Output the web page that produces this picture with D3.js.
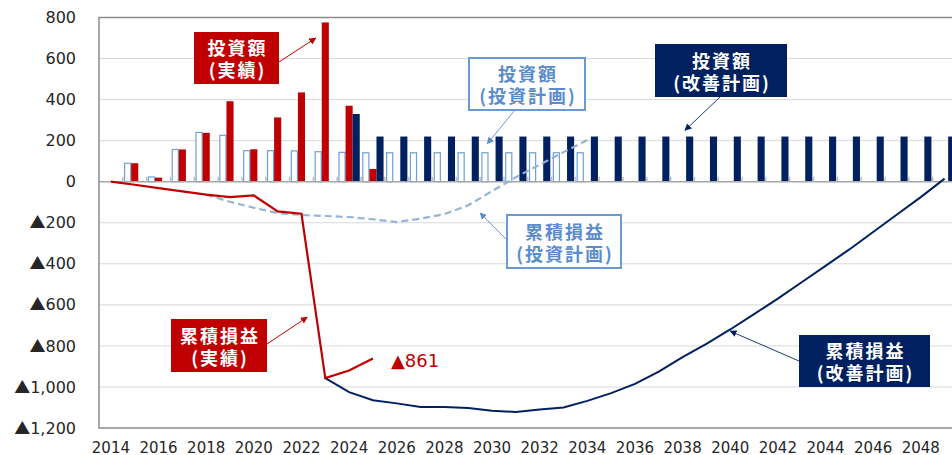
<!DOCTYPE html>
<html>
<head>
<meta charset="utf-8">
<script src="https://cdn.jsdelivr.net/npm/d3@7"></script>
<style>
  body { margin: 0; background: #fff; }
  svg { display: block; }
</style>
</head>
<body>
<div id="chart"></div>
<script>
// categories (the chart is cut at the right edge, so the last band is only partly visible)
const years = [2014, 2015, 2016, 2017, 2018, 2019, 2020, 2021, 2022, 2023, 2024, 2025,
  2026, 2027, 2028, 2029, 2030, 2031, 2032, 2033, 2034, 2035, 2036, 2037,
  2038, 2039, 2040, 2041, 2042, 2043, 2044, 2045, 2046, 2047, 2048, 2049];

const xTickYears = [2014, 2016, 2018, 2020, 2022, 2024, 2026, 2028, 2030, 2032, 2034,
  2036, 2038, 2040, 2042, 2044, 2046, 2048];
const yTicks = [800, 600, 400, 200, 0, -200, -400, -600, -800, -1000, -1200];

// 投資額 (投資計画) - white bars
const planInvest = [null, 90, 23, 157, 240, 226, 151, 151, 150, 146, 143, 141,
  141, 141, 141, 141, 141, 141, 141, 141, 141, null, null, null,
  null, null, null, null, null, null, null, null, null, null, null, null];
// 投資額 (実績) - red bars
const actualInvest = [null, 90, 20, 157, 238, 392, 158, 313, 435, 776, 370, 62,
  null, null, null, null, null, null, null, null, null, null, null, null,
  null, null, null, null, null, null, null, null, null, null, null, null];
// 投資額 (改善計画) - navy bars
const improveInvest = [null, null, null, null, null, null, null, null, null, null, 330, 220,
  220, 220, 220, 220, 220, 220, 220, 220, 220, 220, 220, 220,
  220, 220, 220, 220, 220, 220, 220, 220, 220, 220, 220, 220];

// 累積損益 (実績) - red line
const actualCum = [0, -15, -31, -47, -63, -75, -67, -145, -156, -957, -920, -861,
  null, null, null, null, null, null, null, null, null, null, null, null,
  null, null, null, null, null, null, null, null, null, null, null, null];
// 累積損益 (投資計画) - dashed light blue
const planCum = [null, null, null, null, -63, -98, -127, -153, -162, -167, -172, -183,
  -197, -180, -158, -115, -46, 22, 83, 144, 203, null, null, null,
  null, null, null, null, null, null, null, null, null, null, null, null];
// 累積損益 (改善計画) - navy line
const improveCum = [null, null, null, null, null, null, null, null, null, -957, -1025, -1065,
  -1080, -1098, -1098, -1102, -1116, -1122, -1110, -1100, -1068, -1030, -985, -925,
  -855, -790, -720, -645, -570, -490, -410, -330, -245, -160, -75, 15];

const RED = "#C00000", NAVY = "#002060", BLUE = "#5B8CCB", LIGHT = "#95B3D7";

const W = 952, H = 455;
const plot = { left: 99, top: 17.5, bottom: 428, step: 23.82 };

const svg = d3.select("#chart").append("svg")
  .attr("width", W)
  .attr("height", H)
  .attr("viewBox", `0 0 ${W} ${H}`);

const x = d3.scaleBand()
  .domain(years)
  .range([plot.left, plot.left + years.length * plot.step]);

const xs = d3.scaleBand()
  .domain(["plan", "actual", "improve"])
  .range([0, x.bandwidth()])
  .paddingOuter(0.18);

const y = d3.scaleLinear()
  .domain([-1200, 800])
  .range([plot.bottom, plot.top]);

const cx = yr => x(years[0]) + x.bandwidth() / 2 + (yr - years[0]) * x.step();

// gridlines
svg.append("g")
  .selectAll("line")
  .data(yTicks.filter(v => v !== 800 && v !== -1200 && v !== 0))
  .join("line")
  .attr("x1", plot.left).attr("x2", W)
  .attr("y1", d => y(d)).attr("y2", d => y(d))
  .attr("stroke", "#D9D9D9").attr("stroke-width", 1);

// bars
const series = [
  { key: "plan", values: planInvest, fill: "#fff", stroke: "#6F9FD8" },
  { key: "actual", values: actualInvest, fill: RED, stroke: null },
  { key: "improve", values: improveInvest, fill: NAVY, stroke: null }
];

const gBars = svg.append("g");
series.forEach(s => {
  const rows = years.map((yr, i) => ({ yr, v: s.values[i] })).filter(d => d.v != null);
  gBars.append("g")
    .selectAll("rect")
    .data(rows)
    .join("rect")
    .attr("x", d => x(d.yr) + xs(s.key) + (s.stroke ? 0.5 : 0))
    .attr("width", xs.bandwidth() - (s.stroke ? 1 : 0))
    .attr("y", d => y(d.v))
    .attr("height", d => y(0) - y(d.v))
    .attr("fill", s.fill)
    .attr("stroke", s.stroke)
    .attr("stroke-width", s.stroke ? 1.2 : 0);
});

// zero axis + small category ticks
svg.append("line")
  .attr("x1", plot.left).attr("x2", W)
  .attr("y1", y(0)).attr("y2", y(0))
  .attr("stroke", "#A6A6A6").attr("stroke-width", 1.5);

svg.append("g")
  .selectAll("line")
  .data(years.slice(1))
  .join("line")
  .attr("x1", d => x(d)).attr("x2", d => x(d))
  .attr("y1", y(0) - 5).attr("y2", y(0))
  .attr("stroke", "#BFBFBF").attr("stroke-width", 1.5);

// lines
const line = d3.line()
  .defined(d => d.v != null)
  .x(d => cx(d.yr))
  .y(d => y(d.v));

const toRows = arr => years.map((yr, i) => ({ yr, v: arr[i] }));

svg.append("path")
  .datum(toRows(planCum))
  .attr("d", line)
  .attr("fill", "none")
  .attr("stroke", LIGHT)
  .attr("stroke-width", 2.2)
  .attr("stroke-dasharray", "7,4");

svg.append("path")
  .datum(toRows(improveCum))
  .attr("d", line)
  .attr("fill", "none")
  .attr("stroke", NAVY)
  .attr("stroke-width", 2);

svg.append("path")
  .datum(toRows(actualCum))
  .attr("d", line)
  .attr("fill", "none")
  .attr("stroke", RED)
  .attr("stroke-width", 2.2);

// plot frame
svg.append("path")
  .attr("d", `M${W},${plot.top}H${plot.left}V${plot.bottom}H${W}`)
  .attr("fill", "none")
  .attr("stroke", "#8C8C8C")
  .attr("stroke-width", 1.5);

// y axis labels
const yAxisG = svg.append("g")
  .attr("transform", `translate(${plot.left},0)`)
  .call(d3.axisLeft(y).tickValues(yTicks).tickSize(0).tickPadding(23));
yAxisG.select(".domain").remove();
yAxisG.selectAll("text")
  .attr("font-family", "DejaVu Sans, Verdana, sans-serif")
  .attr("font-size", 16)
  .attr("fill", "#262626")
  .each(function (d) {
    const t = d3.select(this).text(null);
    if (d < 0) t.append("tspan").attr("font-family", "Noto Sans CJK JP").text("▲");
    t.append("tspan").text(d3.format(",")(Math.abs(d)));
  });

// x axis labels
const xAxisG = svg.append("g")
  .attr("transform", `translate(0,${plot.bottom})`)
  .call(d3.axisBottom(x).tickValues(xTickYears).tickSize(0).tickPadding(14));
xAxisG.select(".domain").remove();
xAxisG.selectAll("text")
  .attr("font-family", "DejaVu Sans, Verdana, sans-serif")
  .attr("font-size", 15)
  .attr("fill", "#262626");

// end value label
svg.append("text")
  .attr("x", cx(2025) + 18)
  .attr("y", y(actualCum[years.indexOf(2025)]) + 9)
  .attr("font-family", "DejaVu Sans, Verdana, sans-serif")
  .attr("font-size", 18)
  .attr("fill", RED)
  .text("▲" + Math.abs(actualCum[years.indexOf(2025)]));

// callouts
const defs = svg.append("defs");
[["red", RED], ["navy", NAVY], ["blue", BLUE]].forEach(([id, c]) => {
  defs.append("marker")
    .attr("id", "arrow-" + id)
    .attr("viewBox", "0 0 10 10")
    .attr("refX", 9).attr("refY", 5)
    .attr("markerWidth", 7).attr("markerHeight", 7)
    .attr("markerUnits", "userSpaceOnUse")
    .attr("orient", "auto")
    .append("path")
    .attr("d", "M0,0L10,5L0,10z")
    .attr("fill", c);
});

const callouts = [
  { lines: ["投資額", "(実績)"], box: [194, 32, 85, 52], kind: "red", from: [279, 62], to: [2022.6, 700] },
  { lines: ["投資額", "(投資計画)"], box: [469, 58, 116, 52], kind: "blue", from: [515, 110], to: [2029.8, 185] },
  { lines: ["投資額", "(改善計画)"], box: [655, 44, 132, 53], kind: "navy", from: [720, 97], to: [2038.1, 250] },
  { lines: ["累積損益", "(実績)"], box: [171, 319, 96, 53], kind: "red", from: [267, 344], to: [2022.24, -660] },
  { lines: ["累積損益", "(投資計画)"], box: [507, 215, 114, 53], kind: "blue", from: [507, 240], to: [2029.5, -152] },
  { lines: ["累積損益", "(改善計画)"], box: [799, 335, 131, 52], kind: "navy", from: [799, 361], to: [2040, -728] }
];
const kindStyle = {
  red: { fill: RED, stroke: "none", text: "#fff", arrow: RED },
  navy: { fill: NAVY, stroke: "none", text: "#fff", arrow: "#1F3A73" },
  blue: { fill: "#fff", stroke: "#6A9AD4", text: "#5B8CCB", arrow: "#6A9AD4" }
};

const gCall = svg.append("g");
callouts.forEach(c => {
  const st = kindStyle[c.kind];
  const [bx, by, bw, bh] = c.box;
  gCall.append("line")
    .attr("x1", c.from[0]).attr("y1", c.from[1])
    .attr("x2", cx(c.to[0])).attr("y2", y(c.to[1]))
    .attr("stroke", st.arrow).attr("stroke-width", 1)
    .attr("marker-end", `url(#arrow-${c.kind})`);
  gCall.append("rect")
    .attr("x", bx).attr("y", by).attr("width", bw).attr("height", bh)
    .attr("fill", st.fill)
    .attr("stroke", st.stroke)
    .attr("stroke-width", st.stroke === "none" ? 0 : 2);
  gCall.append("text")
    .attr("text-anchor", "middle")
    .attr("font-family", "Noto Sans CJK JP, sans-serif")
    .attr("font-weight", "bold")
    .attr("font-size", 18)
    .attr("letter-spacing", 2)
    .attr("fill", st.text)
    .selectAll("tspan")
    .data(c.lines)
    .join("tspan")
    .attr("x", bx + bw / 2 + 1)
    .attr("y", (d, i) => by + bh / 2 + (i === 0 ? -11 : 11))
    .attr("dominant-baseline", "central")
    .text(d => d);
});
</script>
</body>
</html>
